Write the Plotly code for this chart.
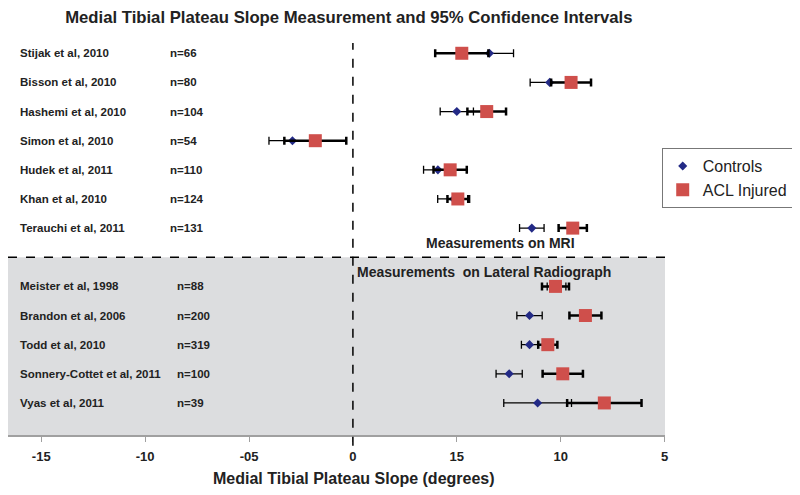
import plotly.graph_objects as go

# ---------------- data ----------------
mri_studies = ["Stijak et al, 2010", "Bisson et al, 2010", "Hashemi et al, 2010",
               "Simon et al, 2010", "Hudek et al, 2011", "Khan et al, 2010",
               "Terauchi et al, 2011"]
mri_n = ["n=66", "n=80", "n=104", "n=54", "n=110", "n=124", "n=131"]
xr_studies = ["Meister et al, 1998", "Brandon et al, 2006", "Todd et al, 2010",
              "Sonnery-Cottet et al, 2011", "Vyas et al, 2011"]
xr_n = ["n=88", "n=200", "n=319", "n=100", "n=39"]

controls_mean = [6.57, 9.47, 5.0, -2.91, 4.09, 4.85, 8.61, 9.8, 8.5, 8.5, 7.52, 8.89]
controls_ci = [1.16, 0.94, 0.8, 1.13, 0.69, 0.77, 0.59, 0.45, 0.61, 0.39, 0.63, 1.63]
acl_mean = [5.24, 10.5, 6.44, -1.81, 4.68, 5.05, 10.58, 9.75, 11.19, 9.38, 10.1, 12.1]
acl_ci = [1.28, 0.96, 0.93, 1.49, 0.80, 0.5, 0.68, 0.65, 0.77, 0.46, 0.97, 1.79]

tick_vals = [-15, -10, -5, 0, 5, 10, 15]
tick_text = ["-15", "-10", "-05", "0", "15", "10", "5"]

# row positions: MRI group, a separator row, then radiograph group
rows = list(range(len(mri_studies))) + [len(mri_studies) + 1 + i for i in range(len(xr_studies))]
sep_row = len(mri_studies)
studies = mri_studies + xr_studies
ns = mri_n + xr_n

FONT = "Arial, Liberation Sans, sans-serif"
NAVY = "#232a86"
RED = "#cf4f4b"

fig = go.Figure()
fig.add_trace(go.Scatter(
    x=controls_mean, y=rows, mode="markers", name="Controls",
    marker=dict(symbol="diamond", size=7, color=NAVY),
    error_x=dict(type="data", array=controls_ci, color="black", thickness=1.3, width=4),
))
fig.add_trace(go.Scatter(
    x=acl_mean, y=rows, mode="markers", name="ACL Injured",
    marker=dict(symbol="square", size=13, color=RED),
    error_x=dict(type="data", array=acl_ci, color="black", thickness=2.5, width=4),
))

shapes = [
    dict(type="rect", xref="paper", yref="y", x0=0, x1=1, y0=sep_row, y1=13.1,
         fillcolor="#dcdddf", line=dict(width=0), layer="below"),
    dict(type="line", xref="paper", yref="y", x0=0, x1=1, y0=sep_row, y1=sep_row,
         line=dict(color="black", width=1.5, dash="dash")),
    dict(type="line", xref="x", yref="paper", x0=0, x1=0, y0=-0.027, y1=0.99,
         line=dict(color="black", width=1.5, dash="dash")),
]

annotations = []
for r, s, n, i in zip(rows, studies, ns, range(len(rows))):
    annotations.append(dict(x=-16.1, y=r, xref="x", yref="y", text=f"<b>{s}</b>",
                            showarrow=False, xanchor="left", yanchor="middle",
                            font=dict(family=FONT, size=11.5, color="#222")))
    nx = -8.9 if i < len(mri_studies) else -8.55
    annotations.append(dict(x=nx, y=r, xref="x", yref="y", text=f"<b>{n}</b>",
                            showarrow=False, xanchor="left", yanchor="middle",
                            font=dict(family=FONT, size=11.5, color="#222")))

annotations.append(dict(x=7.1, y=sep_row - 0.48, xref="x", yref="y",
                        text="<b>Measurements on MRI</b>", showarrow=False,
                        xanchor="center", yanchor="middle",
                        font=dict(family=FONT, size=14, color="#222")))
annotations.append(dict(x=0.1, y=sep_row + 0.52, xref="x", yref="y",
                        text="<b>Measurements  on Lateral Radiograph</b>", showarrow=False,
                        xanchor="left", yanchor="middle",
                        font=dict(family=FONT, size=14, color="#222")))
annotations.append(dict(x=0.526, y=-0.11, xref="paper", yref="paper",
                        text="<b>Medial Tibial Plateau Slope (degrees)</b>", showarrow=False,
                        xanchor="center", yanchor="middle",
                        font=dict(family=FONT, size=16, color="#222")))

fig.update_layout(
    width=800, height=495,
    margin=dict(l=0, r=143, t=31, b=68, autoexpand=False),
    paper_bgcolor="white", plot_bgcolor="white",
    font=dict(family=FONT, color="#222"),
    title=dict(text="<b>Medial Tibial Plateau Slope Measurement and 95% Confidence Intervals</b>",
               x=0.426, xanchor="center", y=0.982, yanchor="middle", yref="container",
               font=dict(family=FONT, size=16.7, color="#222")),
    xaxis=dict(range=[-16.6, 15.02], tickvals=tick_vals,
               ticktext=[f"<b>{t}</b>" for t in tick_text],
               showgrid=False, zeroline=False, showline=True, linecolor="#a0a0a0",
               linewidth=1.5, ticks="outside", ticklen=5, tickcolor="#a0a0a0",
               tickfont=dict(family=FONT, size=13, color="#222"), ticklabelstandoff=4),
    yaxis=dict(range=[13.1, -0.49], visible=False, showgrid=False, zeroline=False),
    showlegend=True,
    legend=dict(x=0.995, y=0.7245, xanchor="left", yanchor="top",
                bordercolor="#777", borderwidth=1, bgcolor="white", itemwidth=30,
                font=dict(family=FONT, size=16, color="#222")),
    shapes=shapes, annotations=annotations,
)

fig.write_html("out.html")
